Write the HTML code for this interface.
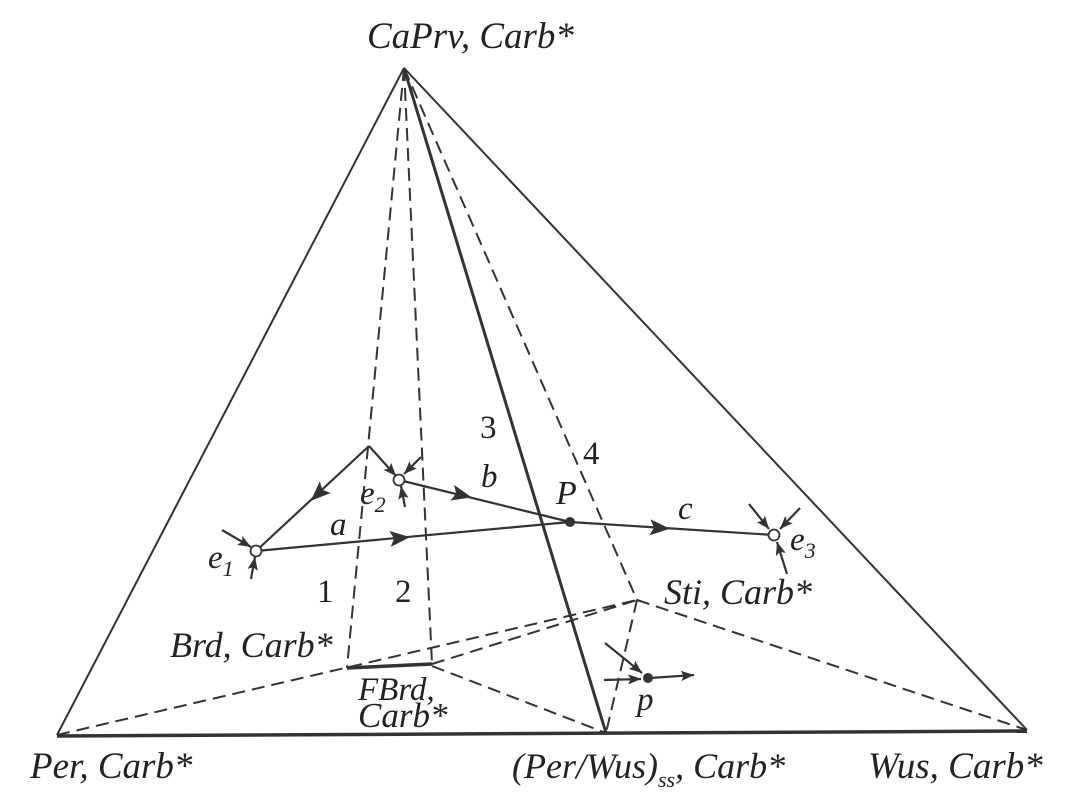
<!DOCTYPE html>
<html><head><meta charset="utf-8"><style>
html,body{margin:0;padding:0;background:#fff}
svg{display:block}
text{font-family:"Liberation Serif",serif;font-style:italic;fill:#222}
.n{font-style:normal}
</style></head><body>
<svg width="1091" height="802" viewBox="0 0 1091 802" xmlns="http://www.w3.org/2000/svg">
<defs>
<marker id="ar" viewBox="0 0 10 10" refX="10" refY="5" markerWidth="13" markerHeight="13" markerUnits="userSpaceOnUse" orient="auto">
<path d="M0,1 L10,5 L0,9 L2,5 Z" fill="#333"/>
</marker>
<marker id="am" viewBox="0 0 10 10" refX="5" refY="5" markerWidth="20" markerHeight="20" markerUnits="userSpaceOnUse" orient="auto">
<path d="M0,1 L10,5 L0,9 L2,5 Z" fill="#333"/>
</marker>
</defs>
<g stroke="#333" fill="none">
<line x1="404" y1="68" x2="57" y2="735" stroke-width="2"/>
<line x1="404" y1="68" x2="1027" y2="730" stroke-width="2"/>
<line x1="404" y1="68" x2="606" y2="733" stroke-width="3"/>
<line x1="57" y1="736" x2="1027" y2="731" stroke-width="3.5"/>
<line x1="347" y1="668" x2="432" y2="664" stroke-width="3.5"/>
<g stroke-dasharray="13,7" stroke-width="2">
<line x1="404" y1="68" x2="347" y2="668"/>
<line x1="404" y1="68" x2="432" y2="664"/>
<line x1="404" y1="68" x2="637" y2="600"/>
<line x1="57" y1="735" x2="637" y2="600"/>
<line x1="432" y1="664" x2="637" y2="600"/>
<line x1="637" y1="600" x2="1027" y2="730"/>
<line x1="637" y1="600" x2="606" y2="733"/>
<line x1="432" y1="666" x2="606" y2="733"/>
</g>
<g stroke-width="2.2">
<line x1="369" y1="446" x2="256" y2="551"/>
<line x1="256" y1="551" x2="570" y2="522"/>
<line x1="399" y1="480" x2="570" y2="522"/>
<line x1="570" y1="522" x2="774" y2="535"/>
<line x1="369" y1="446" x2="318" y2="494" marker-end="url(#am)" stroke-width="0"/>
<line x1="256" y1="551" x2="400" y2="538" marker-end="url(#am)" stroke-width="0"/>
<line x1="399" y1="480" x2="462" y2="495" marker-end="url(#am)" stroke-width="0"/>
<line x1="570" y1="522" x2="660" y2="528" marker-end="url(#am)" stroke-width="0"/>
<line x1="369" y1="446" x2="396" y2="476" marker-end="url(#ar)"/>
<line x1="222" y1="530" x2="251" y2="547" marker-end="url(#ar)"/>
<line x1="251" y1="579" x2="255" y2="557" marker-end="url(#ar)"/>
<line x1="421" y1="457" x2="404" y2="474" marker-end="url(#ar)"/>
<line x1="405" y1="507" x2="401" y2="486" marker-end="url(#ar)"/>
<line x1="749" y1="504" x2="769" y2="529" marker-end="url(#ar)"/>
<line x1="800" y1="508" x2="780" y2="529" marker-end="url(#ar)"/>
<line x1="787" y1="574" x2="777" y2="542" marker-end="url(#ar)"/>
<line x1="604" y1="680" x2="641" y2="679" marker-end="url(#ar)"/>
<line x1="605" y1="643" x2="642" y2="673" marker-end="url(#ar)"/>
<line x1="650" y1="678" x2="694" y2="675" marker-end="url(#ar)"/>
</g>
</g>
<circle cx="256" cy="551" r="5.5" fill="#fff" stroke="#333" stroke-width="1.8"/>
<circle cx="399" cy="480" r="5.5" fill="#fff" stroke="#333" stroke-width="1.8"/>
<circle cx="774" cy="535" r="5.5" fill="#fff" stroke="#333" stroke-width="1.8"/>
<circle cx="570" cy="522" r="5" fill="#333"/>
<circle cx="648" cy="678" r="5" fill="#333"/>
<g font-size="33">
<text x="367" y="48" font-size="37">CaPrv, Carb*</text>
<text x="30" y="778" font-size="37">Per, Carb*</text>
<text x="868" y="778" font-size="37">Wus, Carb*</text>
<text x="512" y="778" font-size="36">(Per/Wus)<tspan font-size="22" dy="9">ss</tspan><tspan dy="-9">, Carb*</tspan></text>
<text x="170" y="657" font-size="36">Brd, Carb*</text>
<text x="664" y="604" font-size="36">Sti, Carb*</text>
<text x="358" y="700">FBrd,</text>
<text x="358" y="727" font-size="35">Carb*</text>
<text x="330" y="535">a</text>
<text x="481" y="487">b</text>
<text x="678" y="519">c</text>
<text x="556" y="504" font-size="34">P</text>
<text x="637" y="710">p</text>
<text x="208" y="568">e<tspan font-size="22" dy="8">1</tspan></text>
<text x="360" y="504">e<tspan font-size="22" dy="8">2</tspan></text>
<text x="790" y="550">e<tspan font-size="22" dy="8">3</tspan></text>
<text class="n" x="317" y="602">1</text>
<text class="n" x="395" y="602">2</text>
<text class="n" x="480" y="438">3</text>
<text class="n" x="583" y="464">4</text>
</g>
</svg>
</body></html>
